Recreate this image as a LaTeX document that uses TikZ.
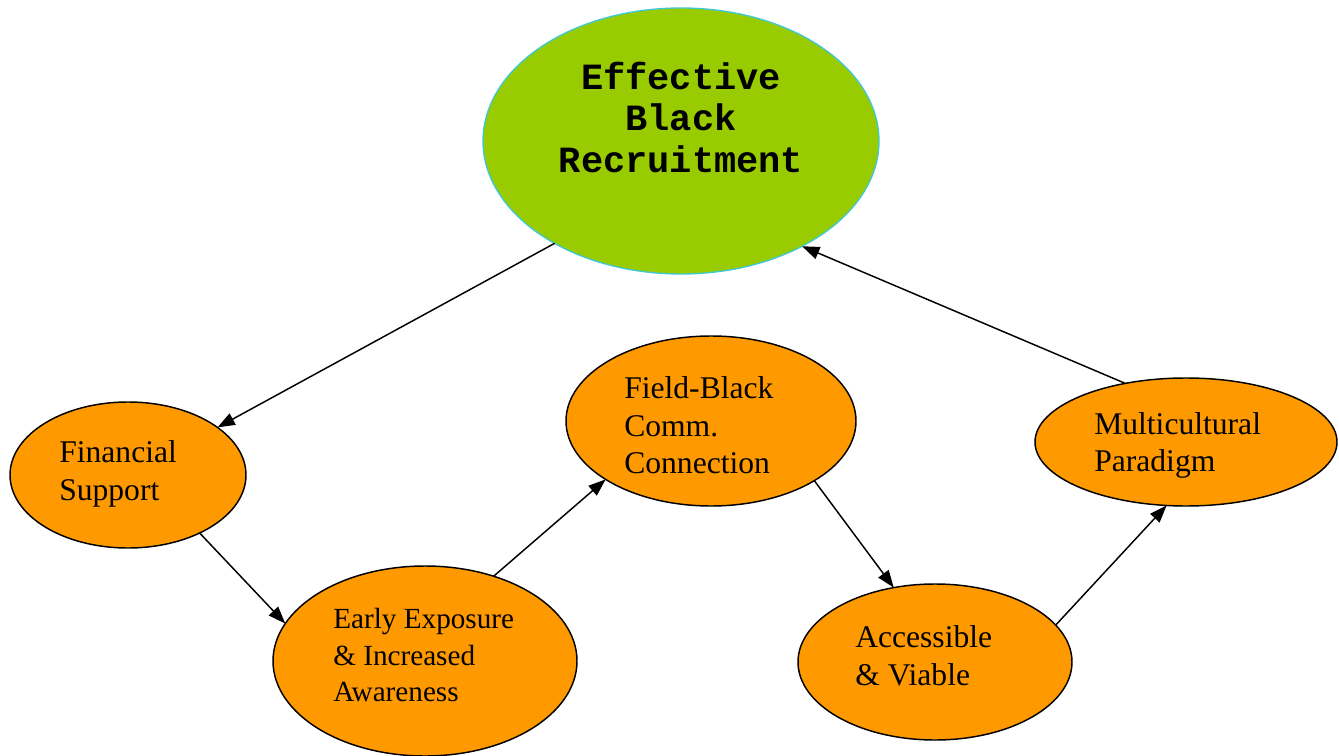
\documentclass[tikz,border=0pt]{standalone}
\usepackage{fontspec}
\setmainfont{Liberation Serif}
\newfontfamily\codefont{Liberation Mono}
\usetikzlibrary{shapes.geometric,arrows.meta}
\definecolor{goalgreen}{HTML}{99CC00}
\definecolor{goalrim}{HTML}{40C8D0}
\definecolor{stepfill}{HTML}{FF9900}
\begin{document}
\begin{tikzpicture}[x=0.75pt,y=-0.75pt,
  goal/.style={ellipse,draw=goalrim,line width=1pt,fill=goalgreen,inner sep=0pt,outer sep=0pt},
  stage/.style={ellipse,draw=black,line width=1.1pt,fill=stepfill,inner sep=0pt,outer sep=0pt},
  caption/.style={anchor=north west,inner sep=0pt,align=left,font=\fontsize{23.7pt}{28pt}\selectfont},
  flow/.style={line width=1.1pt,-{Triangle[length=13pt,width=9.5pt]}}]
\useasboundingbox (0,0) rectangle (1339,756);
\fill[white] (0,0) rectangle (1339,756);

% goal and stage ellipses
\node[goal,minimum width=297pt,minimum height=199.5pt] (goal) at (681,141) {};
\node[stage,minimum width=177pt,minimum height=109.5pt] (fin) at (128,475) {};
\node[stage,minimum width=228pt,minimum height=142.5pt] (early) at (425,661) {};
\node[stage,minimum width=217.5pt,minimum height=127.5pt] (field) at (711,421) {};
\node[stage,minimum width=205.5pt,minimum height=117pt] (acc) at (935,662) {};
\node[stage,minimum width=226.5pt,minimum height=96pt] (multi) at (1186,442) {};

% labels
\node[anchor=north,inner sep=0pt,align=center,font=\codefont\bfseries\fontsize{27.75pt}{31pt}\selectfont] (goalT) at (681,62) {Effective\\Black\\Recruitment};
\node[caption] (finT) at (59,440.5) {Financial\\Support};
\node[caption,font=\fontsize{21.9pt}{27.5pt}\selectfont] (earlyT) at (333,608) {Early Exposure\\\& Increased\\Awareness};
\node[caption] (fieldT) at (624,376.5) {Field-Black\\Comm.\\Connection};
\node[caption] (accT) at (855,625.5) {Accessible\\\& Viable};
\node[caption] (multiT) at (1094,412) {Multicultural\\Paradigm};

% cycle of arrows
\draw[flow] (goal.219.3) -- (fin.28.8);
\draw[flow] (fin.-39.8) -- (early.165.6);
\draw[flow] (early.51.3) -- (field.209.6);
\draw[flow] (field.-30.4) -- (acc.119.6);
\draw[flow] (acc.17) -- (multi.253);
\draw[flow] (multi.136.7) -- (goal.-41.7);
\end{tikzpicture}
\end{document}
